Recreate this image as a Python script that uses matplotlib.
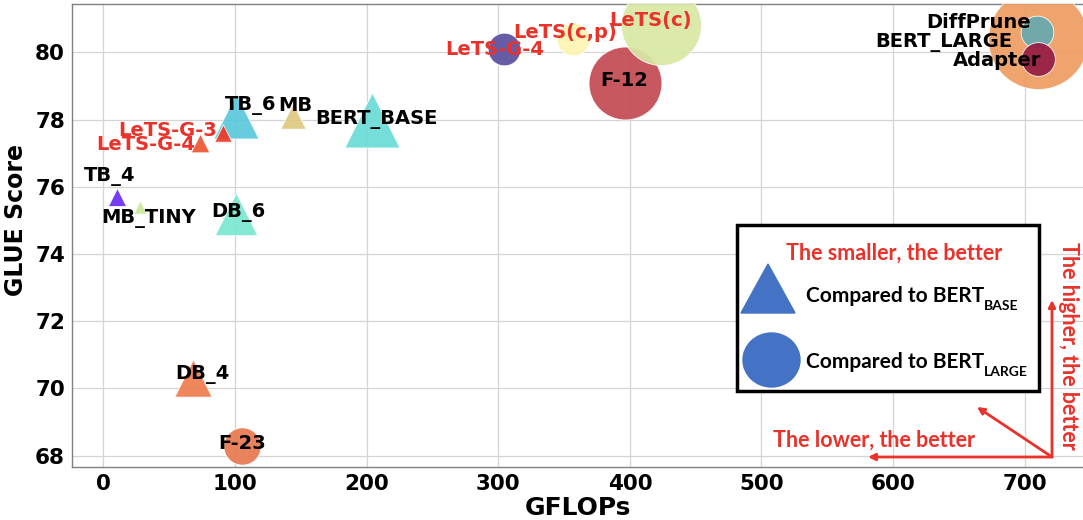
import matplotlib
matplotlib.use("Agg")
import matplotlib.pyplot as plt
from matplotlib.patches import Rectangle, Polygon, Ellipse

# ---------------- data ----------------
names = ["TB_4", "MB_TINY", "LeTS-G-4", "LeTS-G-3", "TB_6", "MB", "BERT_BASE", "DB_6", "DB_4",
         "F-23", "LeTS-G-4", "LeTS(c,p)", "F-12", "LeTS(c)", "BERT_LARGE", "DiffPrune", "Adapter"]
gflops = [10, 28, 73, 91, 101, 144, 204, 101, 68,
          105, 304, 357, 396, 424, 710, 709, 710]
glue = [75.7, 75.4, 77.3, 77.6, 78.1, 78.1, 78.0, 75.2, 70.3,
        68.3, 80.1, 80.4, 79.1, 80.8, 80.4, 80.6, 79.8]
markers = ["^", "^", "^", "^", "^", "^", "^", "^", "^",
           "o", "o", "o", "o", "o", "o", "o", "o"]
ours = [False, False, True, True, False, False, False, False, False,
        False, True, True, False, True, False, False, False]

# ---------------- styles ----------------
sizes = [169, 92, 180, 156, 1050, 333, 1568, 930, 720,
         720, 554, 554, 2760, 3318, 5184, 554, 590]
colors = ["#6a2cf5", "#c8e89a", "#ee5533", "#ee3626", "#5ac8dc", "#e0c880", "#6adcd6", "#7ae8d0", "#ee7c4e",
          "#e8794f", "#5a4fa0", "#fdf5b2", "#c44a52", "#d8e9a4", "#ee9c62", "#66aab0", "#941b42"]
zorders = [3.1, 3.1, 3.3, 3.3, 3.0, 3.0, 3.0, 3.0, 3.0,
           3.0, 3.0, 3.0, 3.0, 3.1, 3.0, 3.1, 3.2]
# label offsets (points) from the marker centre
label_dx = [-5, 6, -39, -40, 10, 2, 3.6, 1.4, 7,
            0, -6.5, -5.8, 0, -8, -68, -42, -29.5]
label_dy = [14.4, -8.6, -0.7, 2, 7.6, 7.6, 0, 1, 3,
            1.4, -0.7, 4.3, 1.8, 3.6, -2.9, 7.2, -1]

RED = "#e8322a"

W, H = 1083, 520
fig = plt.figure(figsize=(W / 100, H / 100), dpi=100)
ax = fig.add_axes([72 / W, (H - 466.7) / H, (W - 72) / W, (466.7 - 4.3) / H])

for i in range(len(names)):
    ax.scatter(gflops[i], glue[i], s=sizes[i], marker=markers[i], color=colors[i],
               edgecolors="white", linewidths=0.6, alpha=0.92, zorder=zorders[i])
for i in range(len(names)):
    ax.annotate(names[i], (gflops[i], glue[i]), xytext=(label_dx[i], label_dy[i]),
                textcoords="offset points", ha="center", va="center",
                fontsize=14, fontweight="bold", color=RED if ours[i] else "black",
                zorder=10)

ax.set_xlim(-23.9, 744.3)
ax.set_ylim(67.67, 81.43)
ax.set_xticks([0, 100, 200, 300, 400, 500, 600, 700])
ax.set_yticks([68, 70, 72, 74, 76, 78, 80])
ax.grid(True, color="#d4d4d4", linewidth=0.9)
ax.set_axisbelow(True)
ax.tick_params(length=0, labelsize=15.5, pad=5)
for lab in ax.get_xticklabels() + ax.get_yticklabels():
    lab.set_fontweight("bold")
for side in ["left", "bottom", "top"]:
    ax.spines[side].set_color("#808080")
    ax.spines[side].set_linewidth(1.0)
ax.spines["right"].set_visible(False)
ax.set_xlabel("GFLOPs", fontsize=18, fontweight="bold", labelpad=2)
ax.set_ylabel("GLUE Score", fontsize=17, fontweight="bold")
ax.yaxis.set_label_coords(-0.0435, 0.533)

# ---------------- overlay (legend box & arrows), pixel coordinates ----------------
ov = fig.add_axes([0, 0, 1, 1], zorder=5)
ov.set_xlim(0, W)
ov.set_ylim(H, 0)
ov.axis("off")
ov.patch.set_alpha(0)

ov.add_patch(Rectangle((737, 225), 302, 166, facecolor="white", edgecolor="black", linewidth=2.5))
ov.add_patch(Polygon([(768, 264), (741, 313), (795, 313)], closed=True, color="#4472c4"))
ov.add_patch(Ellipse((771.5, 360), 57, 54, color="#4472c4"))

lfont = dict(family=["Lato", "DejaVu Sans"], fontweight="bold")
ov.text(894, 253, "The smaller, the better", ha="center", va="center", fontsize=15.5, color=RED, **lfont)
t1 = ov.text(806, 302, "Compared to BERT", ha="left", va="baseline", fontsize=15, color="black", **lfont)
t2 = ov.text(806, 368, "Compared to BERT", ha="left", va="baseline", fontsize=15, color="black", **lfont)
ov.annotate("BASE", xy=(1, 0), xycoords=t1, xytext=(0, -4), textcoords="offset points",
            ha="left", va="bottom", fontsize=10, color="black", **lfont)
ov.annotate("LARGE", xy=(1, 0), xycoords=t2, xytext=(0, -4), textcoords="offset points",
            ha="left", va="bottom", fontsize=10, color="black", **lfont)

origin = (1052, 457)
for end in [(868, 457), (1052, 300), (977, 407)]:
    ov.annotate("", xy=end, xytext=origin,
                arrowprops=dict(arrowstyle="-|>", color=RED, lw=2, mutation_scale=10,
                                shrinkA=0, shrinkB=0))
ov.text(874, 440, "The lower, the better", ha="center", va="center", fontsize=15.5, color=RED, **lfont)
ov.text(1069, 346, "The higher, the better", ha="center", va="center", rotation=270,
        fontsize=15.5, color=RED, **lfont)

fig.savefig("out.png", dpi=100)
